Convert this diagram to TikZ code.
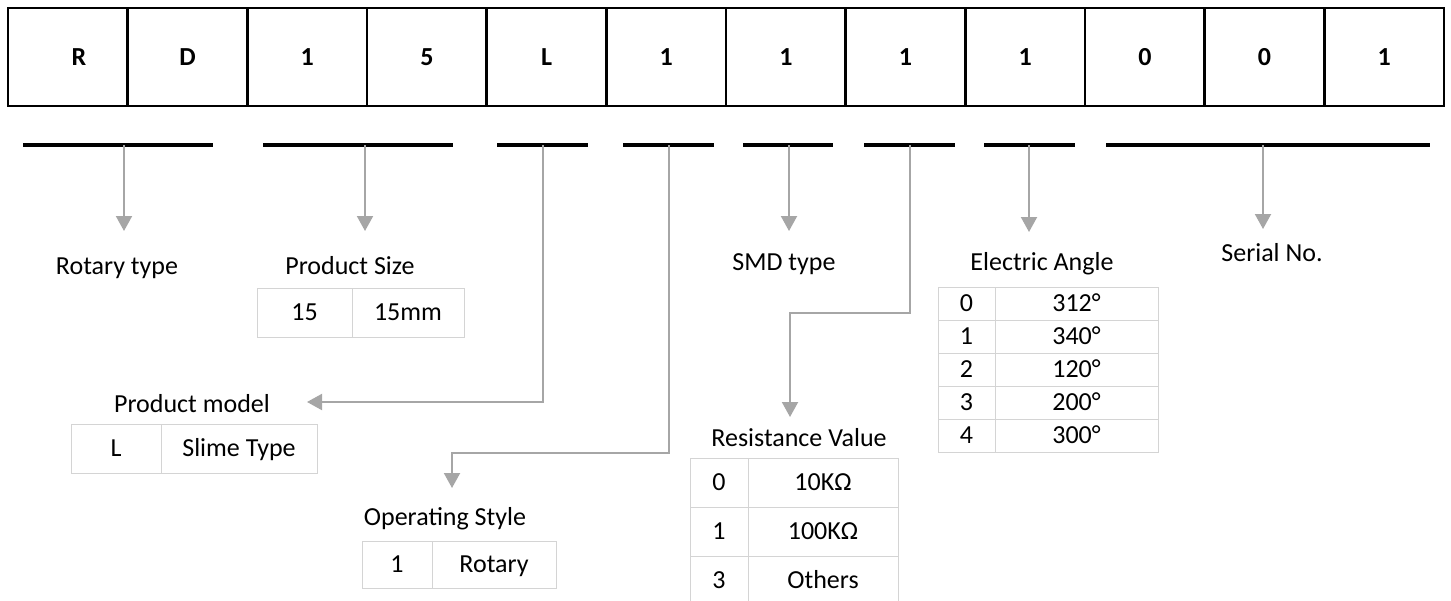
\documentclass[tikz,border=0pt]{standalone}
\usepackage{fontspec}
\setmainfont{Carlito}
\usetikzlibrary{arrows.meta}
\definecolor{arrgray}{HTML}{A6A6A6}
\definecolor{tabgray}{HTML}{D4D4D4}
\begin{document}
\begin{tikzpicture}[x=1pt,y=-1pt,
  topcell/.style={draw=black, line width=2.5pt, minimum width=119.67pt, minimum height=98pt, inner sep=0pt, outer sep=0pt, font=\fontsize{26}{30}\selectfont\bfseries},
  bar/.style={fill=black, draw=none, minimum height=4pt, inner sep=0pt, outer sep=0pt},
  cell/.style={draw=tabgray, line width=1pt, inner sep=0pt, outer sep=0pt, text height=19pt, text depth=3pt, font=\fontsize{26}{30}\selectfont},
  lbl/.style={anchor=base, inner sep=0pt, font=\fontsize{26}{30}\selectfont},
  arr/.style={draw=arrgray, line width=2pt, -{Triangle[width=16pt,length=15pt]}}]
\useasboundingbox (0,0) rectangle (1451,600);
% top code boxes
\foreach \t/\d [count=\i] in {R/22,D/0,1/0,5/0,L/0,1/0,1/0,1/0,1/0,0/0,0/0,1/0}
  \node[topcell] (c\i) at ({8+119.67*(\i-0.5)},57) {\hspace*{\d pt}\t};
% bars
\node[bar, minimum width=190pt] (b1) at (118,145) {};
\node[bar, minimum width=190pt] (b2) at (358,145) {};
\node[bar, minimum width=91pt] (b3) at (542.5,145) {};
\node[bar, minimum width=91pt] (b4) at (668.5,145) {};
\node[bar, minimum width=90pt] (b5) at (788,145) {};
\node[bar, minimum width=91pt] (b6) at (909.5,145) {};
\node[bar, minimum width=91pt] (b7) at (1029.5,145) {};
\node[bar, minimum width=324pt] (b8) at (1268,145) {};
% arrow start points on bars
\coordinate (s1) at (124,145);
\coordinate (s2) at (365,145);
\coordinate (s3) at (543,145);
\coordinate (s4) at (669,145);
\coordinate (s5) at (789,145);
\coordinate (s6) at (910,145);
\coordinate (s7) at (1029,145);
\coordinate (s8) at (1263,145);
% arrow end points
\coordinate (t1) at (124,231);
\coordinate (t2) at (365,231);
\coordinate (t3) at (307,402);
\coordinate (k4) at (669,453);
\coordinate (t4) at (452,488);
\coordinate (t5) at (789,231);
\coordinate (k6) at (910,313);
\coordinate (t6) at (790,417);
\coordinate (t7) at (1029,232);
\coordinate (t8) at (1263,229);
% labels
\node[lbl] (lrt) at (117,274) {Rotary type};
\node[lbl] (lps) at (350,274) {Product Size};
\node[lbl] (lsmd) at (784,270) {SMD type};
\node[lbl] (lea) at (1042,270) {Electric Angle};
\node[lbl] (lsn) at (1272,261) {Serial No.};
\node[lbl] (lpm) at (192,412) {Product model};
\node[lbl] (los) at (445,525) {Operating Style};
\node[lbl] (lrv) at (799,446) {Resistance Value};
% tables
\node[cell, minimum width=95pt, minimum height=49pt] (ps1) at (304.5,312.5) {15};
\node[cell, minimum width=112pt, minimum height=49pt] (ps2) at (408,312.5) {15mm};
\node[cell, minimum width=90pt, minimum height=49pt] (pm1) at (116,448.5) {L};
\node[cell, minimum width=156pt, minimum height=49pt] (pm2) at (239,448.5) {Slime Type};
\node[cell, minimum width=70pt, minimum height=47pt] (os1) at (397,564.5) {1};
\node[cell, minimum width=124pt, minimum height=47pt] (os2) at (494,564.5) {Rotary};
\foreach \k/\v [count=\r] in {0/312°,1/340°,2/120°,3/200°,4/300°} {
  \node[cell, minimum width=57pt, minimum height=33pt] (ea\r a) at (966.5,{270.5+33*\r}) {\k};
  \node[cell, minimum width=163pt, minimum height=33pt] (ea\r b) at (1076.5,{270.5+33*\r}) {\v};
}
\foreach \k/\v [count=\r] in {0/10KΩ,1/100KΩ,3/Others} {
  \node[cell, minimum width=58pt, minimum height=49pt] (rv\r a) at (719,{433.5+49*\r}) {\k};
  \node[cell, minimum width=150pt, minimum height=49pt] (rv\r b) at (823,{433.5+49*\r}) {\v};
}
% connectors
\draw[arr] (s1) -- (t1);
\draw[arr] (s2) -- (t2);
\draw[arr] (s3) |- (t3);
\draw[arr] (s4) -- (k4) -| (t4);
\draw[arr] (s5) -- (t5);
\draw[arr] (s6) -- (k6) -| (t6);
\draw[arr] (s7) -- (t7);
\draw[arr] (s8) -- (t8);
\end{tikzpicture}
\end{document}
